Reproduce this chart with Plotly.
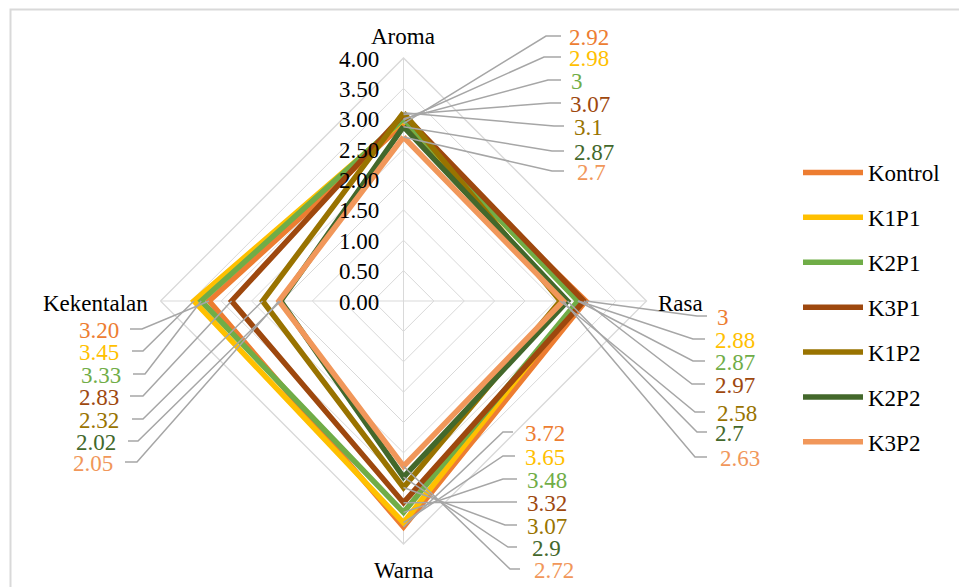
import math
import plotly.graph_objects as go

# ---- data -------------------------------------------------------------
categories = ["Aroma", "Rasa", "Warna", "Kekentalan"]
series_names = ["Kontrol", "K1P1", "K2P1", "K3P1", "K1P2", "K2P2", "K3P2"]

kontrol = [2.92, 3.00, 3.72, 3.20]
k1p1 = [2.98, 2.88, 3.65, 3.45]
k2p1 = [3.00, 2.87, 3.48, 3.33]
k3p1 = [3.07, 2.97, 3.32, 2.83]
k1p2 = [3.10, 2.58, 3.07, 2.32]
k2p2 = [2.87, 2.70, 2.90, 2.02]
k3p2 = [2.70, 2.63, 2.72, 2.05]

radial_ticks = [0, 0.5, 1.0, 1.5, 2.0, 2.5, 3.0, 3.5, 4.0]

series_values = [kontrol, k1p1, k2p1, k3p1, k1p2, k2p2, k3p2]

# ---- style ------------------------------------------------------------
colors = ["#ED7D31", "#FFC000", "#70AD47", "#9E480E", "#997300", "#43682B", "#F1975A"]
FONT = "Liberation Serif, DejaVu Serif, Noto Serif, serif"
FS = 23
W, H = 959, 587
GRID = "#D9D9D9"
LEADER = "#A6A6A6"

# polar geometry (pixels): centre and radius of the 4.0 ring
CX, CY, R = 403.5, 301.0, 243.0
RMAX = 4.0
ANGLES = [0, 90, 180, 270]  # clockwise from top

# category title placement: (x, y, xanchor)
category_titles = {
    "Aroma": (403, 36, "center"),
    "Rasa": (656, 303, "left"),
    "Warna": (403, 570, "center"),
    "Kekentalan": (150, 303, "right"),
}

# data-label placement per category: (text x, text y, leader end x, leader elbow x)
label_layout = {
    "Aroma": dict(anchor="left", pos=[(567, 37, 561, 546), (567, 58, 561, 544), (569, 81, 561, 548),
                                       (568, 104, 561, 550), (572, 127, 564, 554), (572, 152, 564, 552),
                                       (575, 172, 564, 552)]),
    "Rasa": dict(anchor="left", pos=[(715, 317, 707, 697), (713, 340, 705, 693), (713, 362, 705, 693),
                                      (713, 385, 705, 692), (715, 413, 705, 695), (713, 433, 707, 697),
                                      (718, 458, 707, 695)]),
    "Warna": dict(anchor="left", pos=[(523, 433, 513, 503), (523, 457, 515, 503), (525, 480, 517, 503),
                                       (525, 503, 517, 503), (525, 526, 517, 505), (530, 548, 517, 508),
                                       (532, 570, 520, 510)]),
    "Kekentalan": dict(anchor="right", pos=[(121, 330, 130, 142), (121, 352, 132, 143), (123, 375, 133, 145),
                                             (121, 397, 130, 143), (121, 420, 132, 143), (118, 442, 128, 138),
                                             (115, 463, 125, 137)]),
}


def to_pixel(value, angle_deg):
    """Map a radial value on a category spoke to figure pixels."""
    a = math.radians(angle_deg)
    r = value / RMAX * R
    return CX + r * math.sin(a), CY - r * math.cos(a)


def fmt(cat, v):
    return f"{v:.2f}" if cat == "Kekentalan" else f"{v:g}"


fig = go.Figure()

for name, vals, col in zip(series_names, series_values, colors):
    fig.add_trace(go.Scatterpolar(
        r=vals + vals[:1],
        theta=categories + categories[:1],
        mode="lines",
        name=name,
        legendgroup=name,
        line=dict(color=col, width=5.5),
        hoverinfo="skip",
    ))

# pixel-scaled overlay axes for labels and leader lines
fig.add_trace(go.Scatter(x=[], y=[], xaxis="x", yaxis="y", showlegend=False, hoverinfo="skip"))

annotations = []
shapes = []
for ci, cat in enumerate(categories):
    spec = label_layout[cat]
    for si, vals in enumerate(series_values):
        v = vals[ci]
        tx, ty, nx, fx = spec["pos"][si]
        px, py = to_pixel(v, ANGLES[ci])
        ly = ty - 1
        shapes.append(dict(type="path", xref="x", yref="y", layer="above",
                           path=f"M{px:.2f},{py:.2f} L{fx},{ly} L{nx},{ly}",
                           line=dict(color=LEADER, width=1.5)))
        annotations.append(dict(x=tx, y=ty, xref="x", yref="y", text=fmt(cat, v),
                                showarrow=False, xanchor=spec["anchor"], yanchor="middle",
                                font=dict(family=FONT, size=FS, color=colors[si])))

# category titles at the spoke ends
for cat in categories:
    x, y, anc = category_titles[cat]
    annotations.append(dict(x=x, y=y, xref="x", yref="y", text=cat, showarrow=False,
                            xanchor=anc, yanchor="middle",
                            font=dict(family=FONT, size=FS, color="black")))

# radial value labels, set to the left of the top spoke
for t in radial_ticks:
    _, ty = to_pixel(t, 0)
    annotations.append(dict(x=381, y=ty + 1, xref="x", yref="y", text=f"{t:.2f}", showarrow=False,
                            xanchor="right", yanchor="middle",
                            font=dict(family=FONT, size=FS, color="black")))

# chart-area frame
shapes.append(dict(type="path", xref="x", yref="y", layer="below",
                   path="M10.5,600 L10.5,9.5 L970,9.5",
                   line=dict(color=GRID, width=2)))

fig.update_layout(
    width=W, height=H, autosize=False,
    margin=dict(l=0, r=0, t=0, b=0),
    paper_bgcolor="white", plot_bgcolor="rgba(0,0,0,0)",
    font=dict(family=FONT, size=FS, color="black"),
    polar=dict(
        domain=dict(x=[(CX - R) / W, (CX + R) / W], y=[1 - (CY + R) / H, 1 - (CY - R) / H]),
        bgcolor="white",
        gridshape="linear",
        radialaxis=dict(range=[0, RMAX], tickvals=radial_ticks, angle=90, showticklabels=False,
                        showline=False, ticks="", gridcolor=GRID, gridwidth=1.3),
        angularaxis=dict(rotation=90, direction="clockwise", showline=True, linecolor=GRID, linewidth=1.3,
                         gridcolor=GRID, gridwidth=1.3, ticks="", showticklabels=False),
    ),
    xaxis=dict(range=[0, W], visible=False, fixedrange=True, domain=[0, 1]),
    yaxis=dict(range=[H, 0], visible=False, fixedrange=True, domain=[0, 1]),
    legend=dict(x=798 / W, y=1 - 151 / H, xanchor="left", yanchor="top", tracegroupgap=12,
                font=dict(family=FONT, size=FS, color="black"), bgcolor="rgba(0,0,0,0)", itemwidth=60),
    annotations=annotations,
    shapes=shapes,
    showlegend=True,
)

fig.write_html("out.html")
